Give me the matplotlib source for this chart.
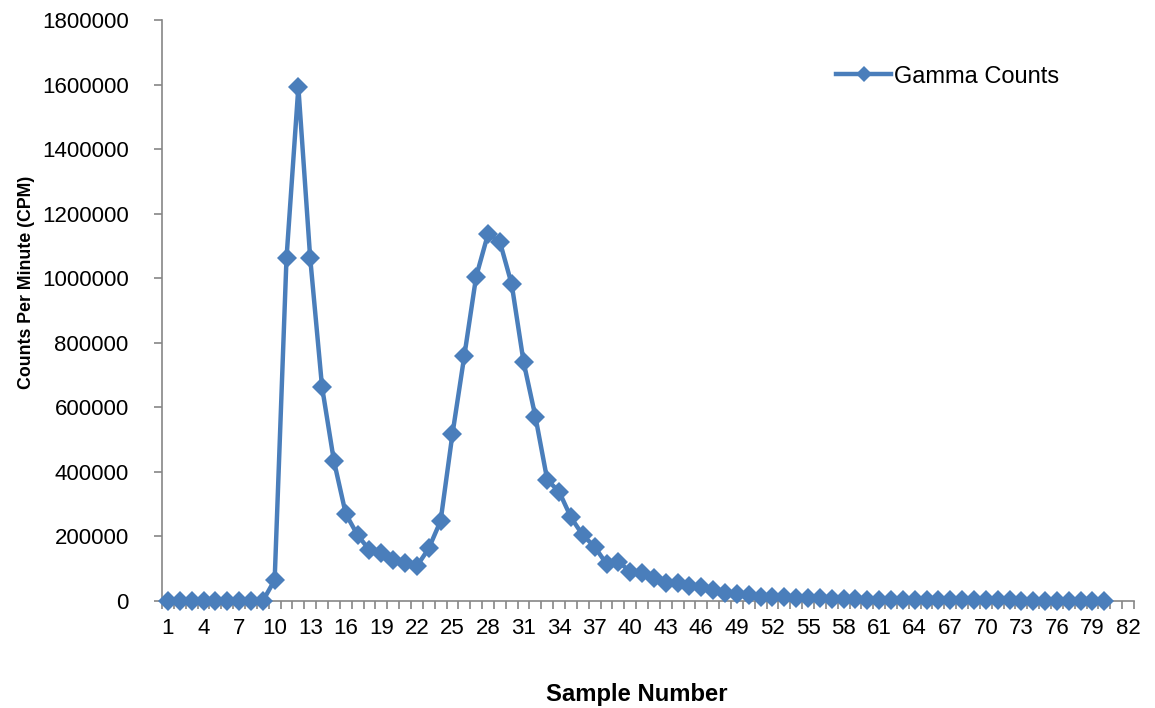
import numpy as np
import matplotlib.pyplot as plt
from matplotlib.ticker import FixedLocator, NullFormatter, FixedFormatter

# Gamma counts per sample
sample_numbers = list(range(1, 81))
gamma_counts = [
    0, 0, 0, 0, 0, 0, 0, 0, 0, 65000,
    1062000, 1592000, 1062000, 663000, 434000, 270000, 204000, 158000, 150000, 127000,
    117000, 108000, 163000, 248000, 517000, 759000, 1005000, 1137000, 1113000, 981000,
    741000, 571000, 375000, 339000, 259000, 204000, 168000, 115000, 122000, 91000,
    86000, 70000, 57000, 55000, 46000, 42000, 34000, 24000, 21000, 18600,
    14000, 13000, 12000, 10000, 9000, 8000, 7000, 5500, 5000, 4500,
    4000, 3500, 3200, 3000, 2800, 2600, 2400, 2200, 2000, 1900,
    1800, 1700, 1600, 1500, 1400, 1300, 1200, 1100, 1000, 900,
]
n_categories = 82
label_positions = list(range(1, n_categories + 1, 3))
y_ticks = list(range(0, 1800001, 200000))

blue = '#4A7EBB'
grey = '#868686'

plt.rcParams['font.family'] = ['Liberation Sans', 'DejaVu Sans']

fig = plt.figure(figsize=(11.55, 7.08), dpi=100)
ax = fig.add_axes([0.1403, 0.1511, 0.9818 - 0.1403, 0.9718 - 0.1511])

ax.plot(sample_numbers, gamma_counts, color=blue, linewidth=3.2,
        marker='D', markersize=10.5, markeredgewidth=0, label='Gamma Counts',
        clip_on=False, zorder=3)

ax.set_xlim(0.5, n_categories + 0.5)
ax.set_ylim(0, 1800000)

# category axis: ticks on the boundaries, labels every third category
ax.xaxis.set_major_locator(FixedLocator(np.arange(0.5, n_categories + 1, 1)))
ax.xaxis.set_major_formatter(NullFormatter())
ax.xaxis.set_minor_locator(FixedLocator(label_positions))
ax.xaxis.set_minor_formatter(FixedFormatter([str(v) for v in label_positions]))
ax.tick_params(axis='x', which='major', length=6, width=1.2, color=grey, direction='out')
ax.tick_params(axis='x', which='minor', length=0, pad=12, labelsize=16)

ax.set_yticks(y_ticks)
ax.set_yticklabels([str(v) for v in y_ticks])
ax.tick_params(axis='y', length=6, width=1.2, color=grey, direction='out',
               pad=18, labelsize=16)

for side in ['top', 'right']:
    ax.spines[side].set_visible(False)
for side in ['left', 'bottom']:
    ax.spines[side].set_color(grey)
    ax.spines[side].set_linewidth(1.2)

ax.set_xlabel('Sample Number', fontsize=17.2, fontweight='bold')
ax.xaxis.set_label_coords(0.4885, -0.141)
ax.set_ylabel('Counts Per Minute (CPM)', fontsize=12.8, fontweight='bold')
ax.yaxis.set_label_coords(-0.131, 0.549)

ax.legend(loc='upper left', bbox_to_anchor=(0.672, 0.958), frameon=False,
          fontsize=17, handlelength=2.3, handletextpad=0.15, markerscale=0.75)

plt.savefig('out.png')
